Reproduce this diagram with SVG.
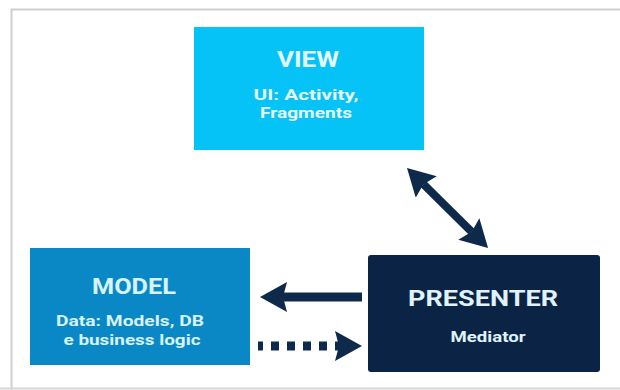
<svg xmlns="http://www.w3.org/2000/svg" width="620" height="390" viewBox="0 0 620 390">
<style>
.title{font-family:Roboto,"Liberation Sans",sans-serif;font-weight:700;font-size:22px;text-anchor:middle}
.sub{font-family:Roboto,"Liberation Sans",sans-serif;font-weight:700;font-size:14px;text-anchor:middle}
.conn{stroke:#0d2a4a;fill:none}
</style>
<defs>
<marker id="ah" viewBox="0 0 27 30" refX="4" refY="15" markerWidth="27" markerHeight="30" orient="auto-start-reverse" markerUnits="userSpaceOnUse">
<path d="M0,0 L27,15 L0,30 L4,15 z" fill="#0d2a4a"/>
</marker>
</defs>
<rect x="0" y="0" width="620" height="390" fill="#ffffff"/>
<path d="M11.5,390 V9.5 H620" fill="none" stroke="#cfcfcf" stroke-width="2"/>
<line x1="0" y1="388.5" x2="620" y2="388.5" stroke="#d6d6d6" stroke-width="2"/>
<g id="view">
<rect x="194" y="27" width="230" height="123" fill="#05c3f6"/>
<text class="title" x="308" y="67" textLength="62" lengthAdjust="spacingAndGlyphs" fill="#e4f7ff">VIEW</text>
<text class="sub" x="306" y="100" textLength="105" lengthAdjust="spacingAndGlyphs" fill="#e4f7ff">UI: Activity,</text>
<text class="sub" x="306" y="118" textLength="92" lengthAdjust="spacingAndGlyphs" fill="#e4f7ff">Fragments</text>
</g>
<g id="model">
<rect x="30" y="248" width="220" height="117" fill="#0a88c6"/>
<text class="title" x="134" y="294" textLength="84" lengthAdjust="spacingAndGlyphs" fill="#d6f3ff">MODEL</text>
<text class="sub" x="130" y="326" textLength="148" lengthAdjust="spacingAndGlyphs" fill="#d6f3ff">Data: Models, DB</text>
<text class="sub" x="132" y="345" textLength="137" lengthAdjust="spacingAndGlyphs" fill="#d6f3ff">e business logic</text>
</g>
<g id="presenter">
<rect x="368" y="255" width="232" height="117" rx="3" fill="#0b2446"/>
<text class="title" x="483" y="306" textLength="150" lengthAdjust="spacingAndGlyphs" fill="#e0f2fb">PRESENTER</text>
<text class="sub" x="488" y="342" font-size="13" textLength="75" lengthAdjust="spacingAndGlyphs" fill="#e0f2fb">Mediator</text>
</g>
<g id="connectors">
<line class="conn" x1="423.4" y1="184.2" x2="471.7" y2="231.8" stroke-width="8" marker-start="url(#ah)" marker-end="url(#ah)"/>
<line class="conn" x1="362" y1="297" x2="283" y2="297" stroke-width="9" marker-end="url(#ah)"/>
<line class="conn" x1="258" y1="346" x2="339" y2="346" stroke-width="9" stroke-dasharray="8 8" stroke-dashoffset="3" marker-end="url(#ah)"/>
</g>
</svg>
